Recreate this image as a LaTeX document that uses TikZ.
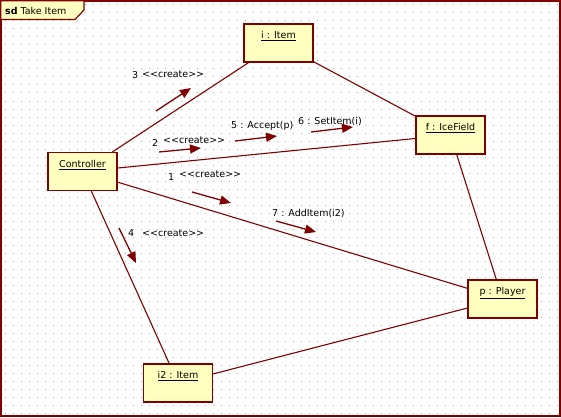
\documentclass[tikz,border=0pt]{standalone}
\usepackage{fontspec}
\setmainfont{DejaVu Sans}[Ligatures=NoCommon]
\usepackage{xcolor}
\definecolor{umlred}{RGB}{128, 0, 0}
\definecolor{umlfill}{RGB}{255, 255, 192}
\definecolor{umldot}{RGB}{175, 175, 175}
\usepackage{tikz}
\usetikzlibrary{positioning, arrows.meta}
\newcommand{\crt}{{<}{<}create{>}{>}}
\tikzset{
    objbox/.style={
        draw=umlred,
        fill=umlfill,
        line width=1.3pt,
        minimum width=69pt,
        inner xsep=2pt,
        inner ysep=0pt,
        text height=14.7pt,
        text depth=23.3pt,
        font=\fontsize{9.5}{11}\selectfont
    },
    link/.style={
        umlred,
        line width=1.1pt
    },
    msgarrow/.style={
        -{Triangle[length=11pt,width=9pt]},
        line width=1.3pt,
        umlred
    },
    msglabel/.style={
        anchor=base west,
        inner sep=0pt,
        font=\fontsize{9.5}{11}\selectfont
    }
}

\begin{document}
\begin{tikzpicture}[x=1pt, y=-1pt]

\useasboundingbox (0,0) rectangle (561,417);

% ---------------------------------------------------------
% Frame and grid
% ---------------------------------------------------------

\foreach \gy in {5,13,...,413}
    \draw[umldot, line width=1pt, dash pattern=on 1pt off 7pt] (4.5,\gy) -- (560,\gy);

\draw[umlred, line width=1.6pt] (0.8,0.8) rectangle (560.2,416.2);

% Frame tab
\draw[umlred, fill=umlfill, line width=1.2pt]
    (0.8,0.8) -- (84,0.8) -- (84,10) -- (75,19.5) -- (0.8,19.5) -- cycle;
\node[msglabel] (title) at (5,15) {\textbf{sd} Take Item};

% ---------------------------------------------------------
% Objects
% ---------------------------------------------------------

\node[objbox] (ctrl)   at (82.5,171.5) {\underline{Controller}};
\node[objbox] (item)   at (278.5,43)   {\underline{i : Item}};
\node[objbox] (field)  at (450.5,135)  {\underline{f : IceField}};
\node[objbox] (player) at (502.5,299)  {\underline{p : Player}};
\node[objbox] (item2)  at (178,383)    {\underline{i2 : Item}};

% ---------------------------------------------------------
% Links
% ---------------------------------------------------------

\draw[link] (ctrl) -- (item);
\draw[link] (ctrl) -- (field);
\draw[link] (ctrl) -- (player);
\draw[link] (ctrl) -- (item2);
\draw[link] (item) -- (field);
\draw[link] (field) -- (player);
\draw[link] (item2) -- (player);

% ---------------------------------------------------------
% Messages
% ---------------------------------------------------------

% 1 create
\coordinate (m1s) at (192,192);
\coordinate (m1e) at (231,203);
\draw[msgarrow] (m1s) -- (m1e);
\node[msglabel] (n1) at (168,180) {1};
\node[msglabel] (t1) at (179,177) {\crt};

% 2 create
\coordinate (m2s) at (159,152);
\coordinate (m2e) at (201,148);
\draw[msgarrow] (m2s) -- (m2e);
\node[msglabel] (n2) at (152,146) {2};
\node[msglabel] (t2) at (163,143) {\crt};

% 3 create
\coordinate (m3s) at (156,111);
\coordinate (m3e) at (191,88);
\draw[msgarrow] (m3s) -- (m3e);
\node[msglabel] (n3) at (132,79) {3};
\node[msglabel] (t3) at (142,78) {\crt};

% 4 create
\coordinate (m4s) at (119,228);
\coordinate (m4e) at (136,263);
\draw[msgarrow] (m4s) -- (m4e);
\node[msglabel] (n4) at (128,236) {4};
\node[msglabel] (t4) at (142,236) {\crt};

% 5, 6 and 7
\coordinate (m5s) at (235,141);
\coordinate (m5e) at (277,136);
\draw[msgarrow] (m5s) -- (m5e);
\node[msglabel] (t5) at (231,128.5) {5 : Accept(p)};

\coordinate (m6s) at (311,132);
\coordinate (m6e) at (353,127);
\draw[msgarrow] (m6s) -- (m6e);
\node[msglabel] (t6) at (298,124) {6 : SetItem(i)};

\coordinate (m7s) at (276,221);
\coordinate (m7e) at (316,232);
\draw[msgarrow] (m7s) -- (m7e);
\node[msglabel] (t7) at (272,216) {7 : AddItem(i2)};

\end{tikzpicture}
\end{document}
